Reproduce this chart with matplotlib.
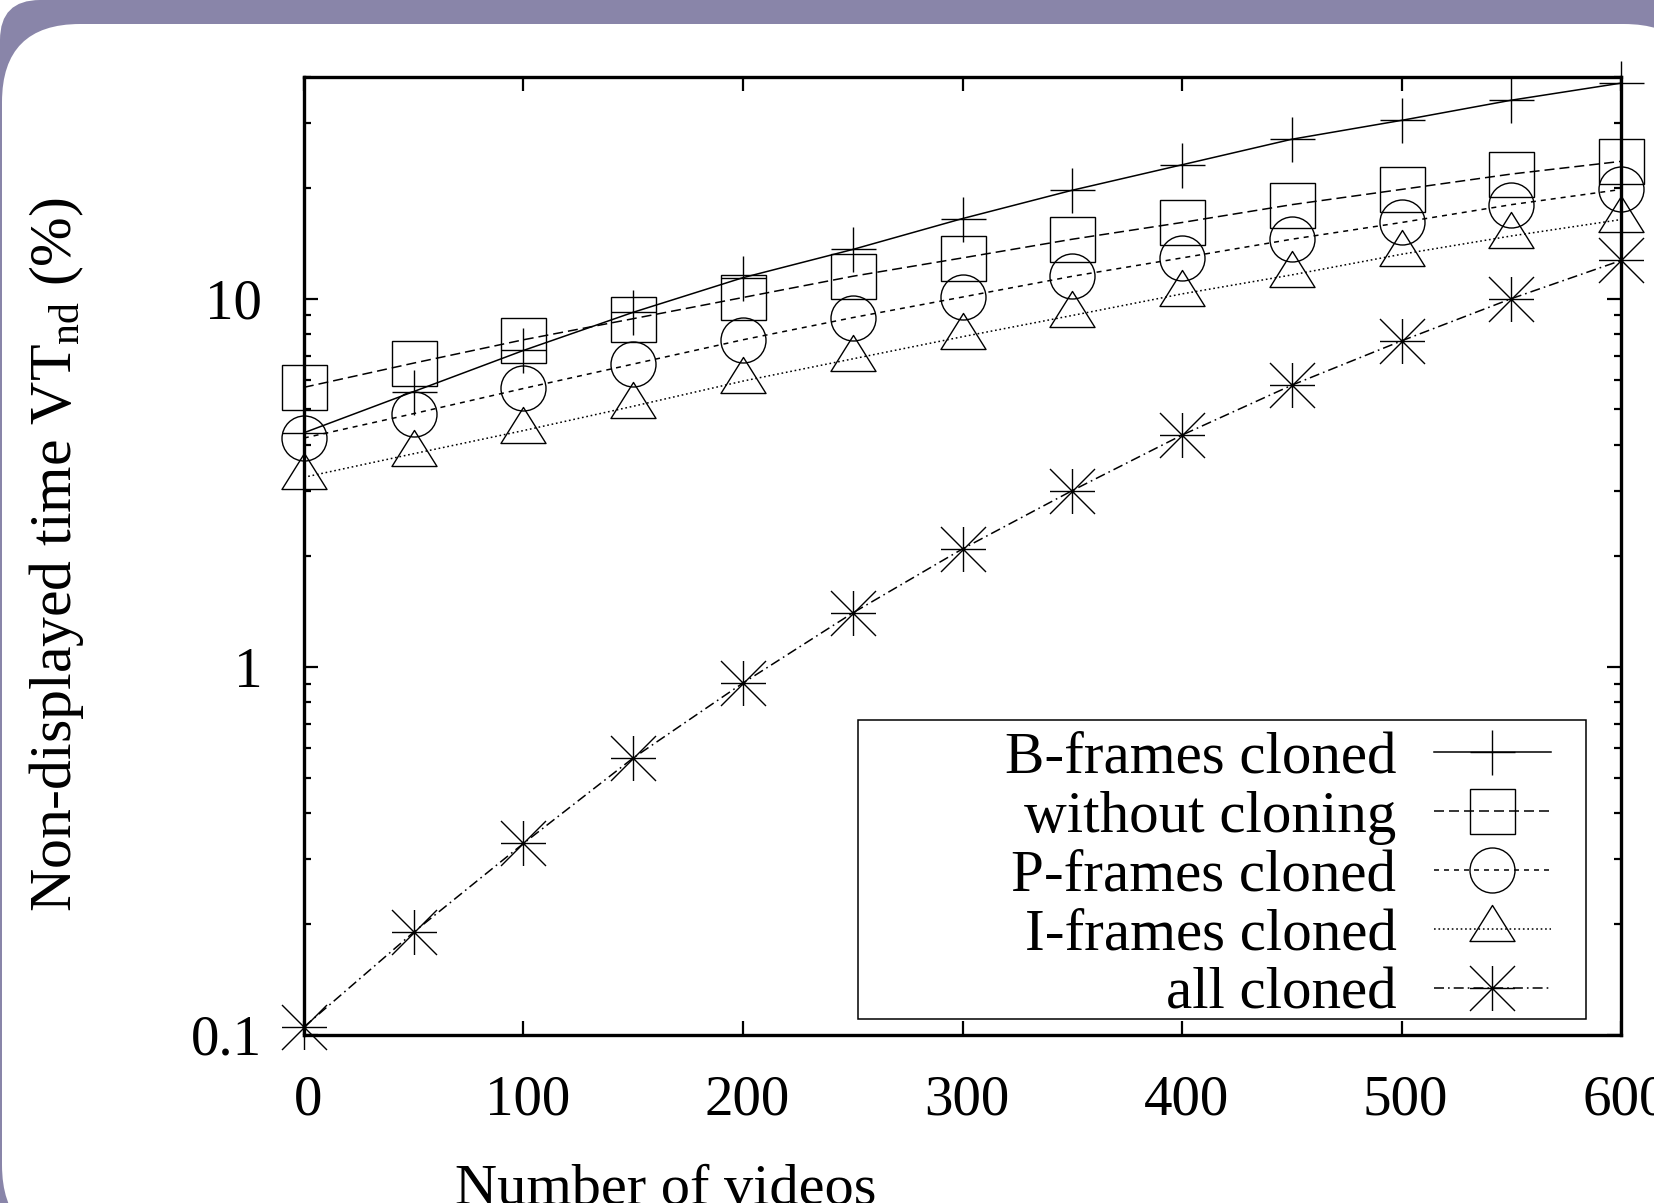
import matplotlib
matplotlib.use('Agg')
import matplotlib.pyplot as plt
from matplotlib.path import Path
from matplotlib.patches import FancyBboxPatch, Rectangle
from matplotlib.transforms import IdentityTransform, ScaledTranslation

plt.rcParams['font.family'] = ['Liberation Serif', 'DejaVu Serif']
plt.rcParams['mathtext.fontset'] = 'custom'
plt.rcParams['mathtext.rm'] = 'Liberation Serif'
plt.rcParams['mathtext.it'] = 'Liberation Serif:italic'
plt.rcParams['lines.scale_dashes'] = False

# number of videos on the x axis
videos = [0, 50, 100, 150, 200, 250, 300, 350, 400, 450, 500, 550, 600]

# non-displayed time VT_nd (%)
b_cloned = [4.32, 5.59, 7.23, 9.18, 11.4, 13.6, 16.5, 19.7, 23.1, 27.1, 30.5, 34.6, 38.5]
no_cloning = [5.74, 6.68, 7.73, 8.82, 10.07, 11.5, 12.9, 14.5, 16.1, 18.0, 19.8, 21.8, 23.6]
p_cloned = [4.18, 4.87, 5.70, 6.64, 7.73, 8.88, 10.1, 11.5, 12.9, 14.5, 16.1, 18.0, 19.8]
i_cloned = [3.27, 3.79, 4.38, 5.10, 5.97, 6.86, 7.88, 9.0, 10.3, 11.6, 13.2, 14.8, 16.4]
all_cloned = [0.105, 0.19, 0.331, 0.565, 0.903, 1.40, 2.09, 3.01, 4.26, 5.82, 7.68, 10.0, 12.7]

labels = ['B-frames cloned', 'without cloning', 'P-frames cloned',
          'I-frames cloned', 'all cloned']

xticks = [0, 100, 200, 300, 400, 500, 600]
yticks = [0.1, 1, 10]
yticklabels = ['0.1', '1', '10']

# gnuplot-like point types
star = Path([(-1, 0), (1, 0), (0, -1), (0, 1), (-1, -1), (1, 1), (-1, 1), (1, -1)],
            [Path.MOVETO, Path.LINETO] * 4)
tri = Path([(0, 24), (-22.5, -12), (22.5, -12), (0, 24)],
           [Path.MOVETO, Path.LINETO, Path.LINETO, Path.CLOSEPOLY])

styles = [
    dict(marker='+', ms=32.4, linestyle='-'),
    dict(marker='s', ms=32.4, dashes=(7.2, 3.6)),
    dict(marker='o', ms=32.4, dashes=(3.6, 3.6)),
    dict(marker=tri, ms=34.6, dashes=(1.2, 2.0)),
    dict(marker=star, ms=32.4, dashes=(7.2, 2.9, 1.2, 2.9)),
]

fig = plt.figure(figsize=(16.54, 12.03), dpi=100, facecolor='white')

# slide frame behind the plot
purple = '#8985a9'
fig.add_artist(FancyBboxPatch((0, -200), 1800, 1403,
                              boxstyle='round,pad=0,rounding_size=40',
                              transform=IdentityTransform(), fc=purple,
                              ec='none', zorder=-20))
fig.add_artist(FancyBboxPatch((2, -40), 1700, 1219,
                              boxstyle='round,pad=0,rounding_size=78',
                              transform=IdentityTransform(), fc='white',
                              ec='none', zorder=-19))

ax = fig.add_axes([0.1837, 0.1398, 0.7965, 0.7962])
ax.set_yscale('log')

series = [b_cloned, no_cloning, p_cloned, i_cloned, all_cloned]
for ys, lab, st in zip(series, labels, styles):
    st = dict(st)
    ms = st.pop('ms')
    ax.plot(videos, ys, color='black', lw=1.1, label=lab, markersize=ms,
            markerfacecolor='none', markeredgecolor='black',
            markeredgewidth=1.0, clip_on=False, **st)

ax.set_xlim(0, 600)
ax.set_ylim(0.1, 40)
ax.set_xticks(xticks)
ax.set_xticklabels([str(t) for t in xticks])
ax.set_yticks(yticks)
ax.set_yticklabels(yticklabels)
ax.minorticks_off()
ax.yaxis.set_minor_locator(matplotlib.ticker.LogLocator(base=10, subs=range(2, 10)))
ax.yaxis.set_minor_formatter(matplotlib.ticker.NullFormatter())

ax.tick_params(which='both', direction='in', top=True, right=True, width=1.6)
ax.tick_params(which='major', length=10)
ax.tick_params(which='minor', length=5)
ax.tick_params(axis='x', labelsize=41, pad=28.5)
ax.tick_params(axis='y', labelsize=41, pad=30)
for sp in ax.spines.values():
    sp.set_linewidth(2.4)

# nudge x tick labels a little to the right
shift = ScaledTranslation(4 / 100, 0, fig.dpi_scale_trans)
for lbl in ax.get_xticklabels():
    lbl.set_transform(lbl.get_transform() + shift)

# key box
ax.add_patch(Rectangle((0.4203, 0.0165), 0.5532, 0.3118, transform=ax.transAxes,
                       fill=False, ec='black', lw=1.1, zorder=4))
ax.legend(loc='lower right', bbox_to_anchor=(0.9463, 0.0134), frameon=False,
          markerfirst=False, fontsize=42.5, borderpad=0, borderaxespad=0,
          handlelength=1.97, handletextpad=0.64, labelspacing=0.08,
          numpoints=1)

fig.text(57 / 1654, 1 - 554 / 1203, r'Non-displayed time VT$_{\mathrm{nd}}$ (%)',
         rotation=90, ha='center', va='center', fontsize=43)
fig.text(666 / 1654, 1 - 1204 / 1203, 'Number of videos', ha='center',
         va='baseline', fontsize=42)

fig.savefig('out.png', dpi=100)
